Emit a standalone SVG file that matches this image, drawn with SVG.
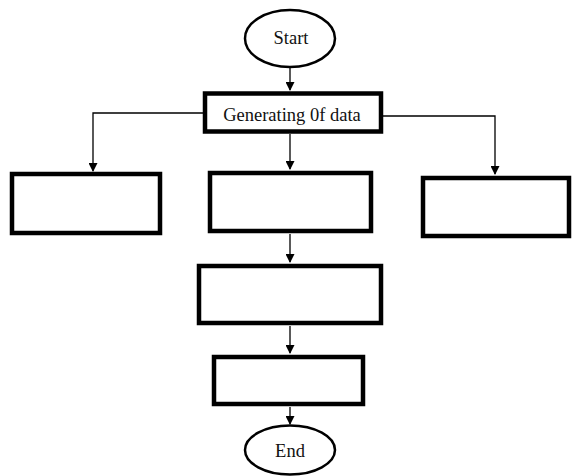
<svg xmlns="http://www.w3.org/2000/svg" width="572" height="476" viewBox="0 0 572 476">
<style>
.box{fill:#fff;stroke:#000;stroke-width:4.5}
.ell{fill:#fff;stroke:#000;stroke-width:2.5}
.lbl{font-family:"Liberation Serif","Times New Roman",serif;font-size:18.5px;fill:#111;text-anchor:middle}
.con{fill:none;stroke:#000;stroke-width:1.3}
</style>
<defs>
<marker id="ah" markerWidth="9" markerHeight="9" refX="8" refY="4.5" orient="auto" markerUnits="userSpaceOnUse">
<path d="M0,0 L9,4.5 L0,9 Z" fill="#000"/>
</marker>
</defs>
<g id="connectors">
<line class="con" x1="290" y1="67" x2="290" y2="90" marker-end="url(#ah)"/>
<polyline class="con" points="203,113 93,113 93,171" marker-end="url(#ah)"/>
<polyline class="con" points="383,116 495,116 495,174" marker-end="url(#ah)"/>
<line class="con" x1="290" y1="134" x2="290" y2="169" marker-end="url(#ah)"/>
<line class="con" x1="290" y1="234" x2="290" y2="262" marker-end="url(#ah)"/>
<line class="con" x1="290" y1="326" x2="290" y2="353" marker-end="url(#ah)"/>
<line class="con" x1="290" y1="407" x2="290" y2="424" marker-end="url(#ah)"/>
</g>
<g id="start">
<ellipse class="ell" cx="290" cy="38.5" rx="45" ry="28.5"/>
<text class="lbl" x="291" y="44">Start</text>
</g>
<g id="generating">
<rect class="box" x="205" y="93.5" width="176" height="38"/>
<text class="lbl" x="292" y="121">Generating 0f data</text>
</g>
<g id="left-box">
<rect class="box" x="12" y="174" width="148" height="59"/>
</g>
<g id="middle-box">
<rect class="box" x="210" y="173" width="161" height="58"/>
</g>
<g id="right-box">
<rect class="box" x="423" y="178" width="146" height="58"/>
</g>
<g id="third-box">
<rect class="box" x="199" y="266" width="182" height="57"/>
</g>
<g id="fourth-box">
<rect class="box" x="214" y="357" width="149" height="47"/>
</g>
<g id="end">
<ellipse class="ell" cx="290" cy="450" rx="45" ry="24.5"/>
<text class="lbl" x="290" y="457">End</text>
</g>
</svg>
